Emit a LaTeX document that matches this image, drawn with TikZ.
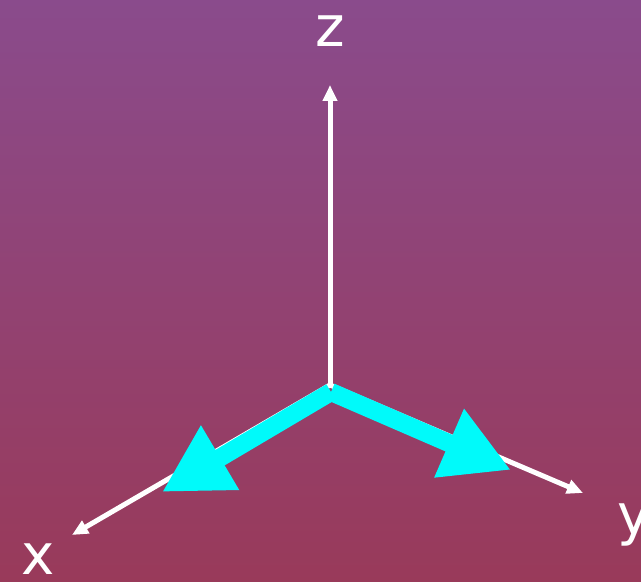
\documentclass[tikz,border=0pt]{standalone}
\usepackage{fontspec}
\setmainfont{DejaVu Sans}
\usetikzlibrary{arrows.meta}
\definecolor{bgtop}{HTML}{8A4B8C}
\definecolor{bgbottom}{HTML}{993A5A}
\definecolor{unitcyan}{HTML}{00FAFA}
\tikzset{
  axisarrow/.style={-{Triangle[length=3.2mm,width=2.8mm]},draw=white,line width=1mm},
  unitarrow/.style={-{Triangle[length=13.5mm,width=14mm]},draw=unitcyan,line width=3.6mm},
  axislabel/.style={anchor=base,text=white,inner sep=0pt,font=\fontsize{32}{38}\selectfont},
}

\begin{document}
\begin{tikzpicture}[x=0.2mm,y=0.2mm]
        \shade[top color=bgtop,bottom color=bgbottom] (0,0) rectangle (641,582);
        \useasboundingbox (0,0) rectangle (641,582);
        \coordinate (o) at (330,197);
        \coordinate (zend) at (330,497);
        \coordinate (xend) at (72,47);
        \coordinate (yend) at (583,89);
        \coordinate (ustart) at (331,190);
        \coordinate (xunit) at (162,90);
        \coordinate (yunit) at (511,112);
        \node[axislabel] (zlabel) at (330,535) {z};
        \node[axislabel] (xlabel) at (38,7) {x};
        \node[axislabel] (ylabel) at (634,47) {y};
        \draw[axisarrow] (o)--(zend); \draw[axisarrow] (o)--(xend); \draw[axisarrow] (o)--(yend);
        \draw[unitarrow] (ustart)--(xunit); \draw[unitarrow] (ustart)--(yunit);
      \end{tikzpicture}
\end{document}
